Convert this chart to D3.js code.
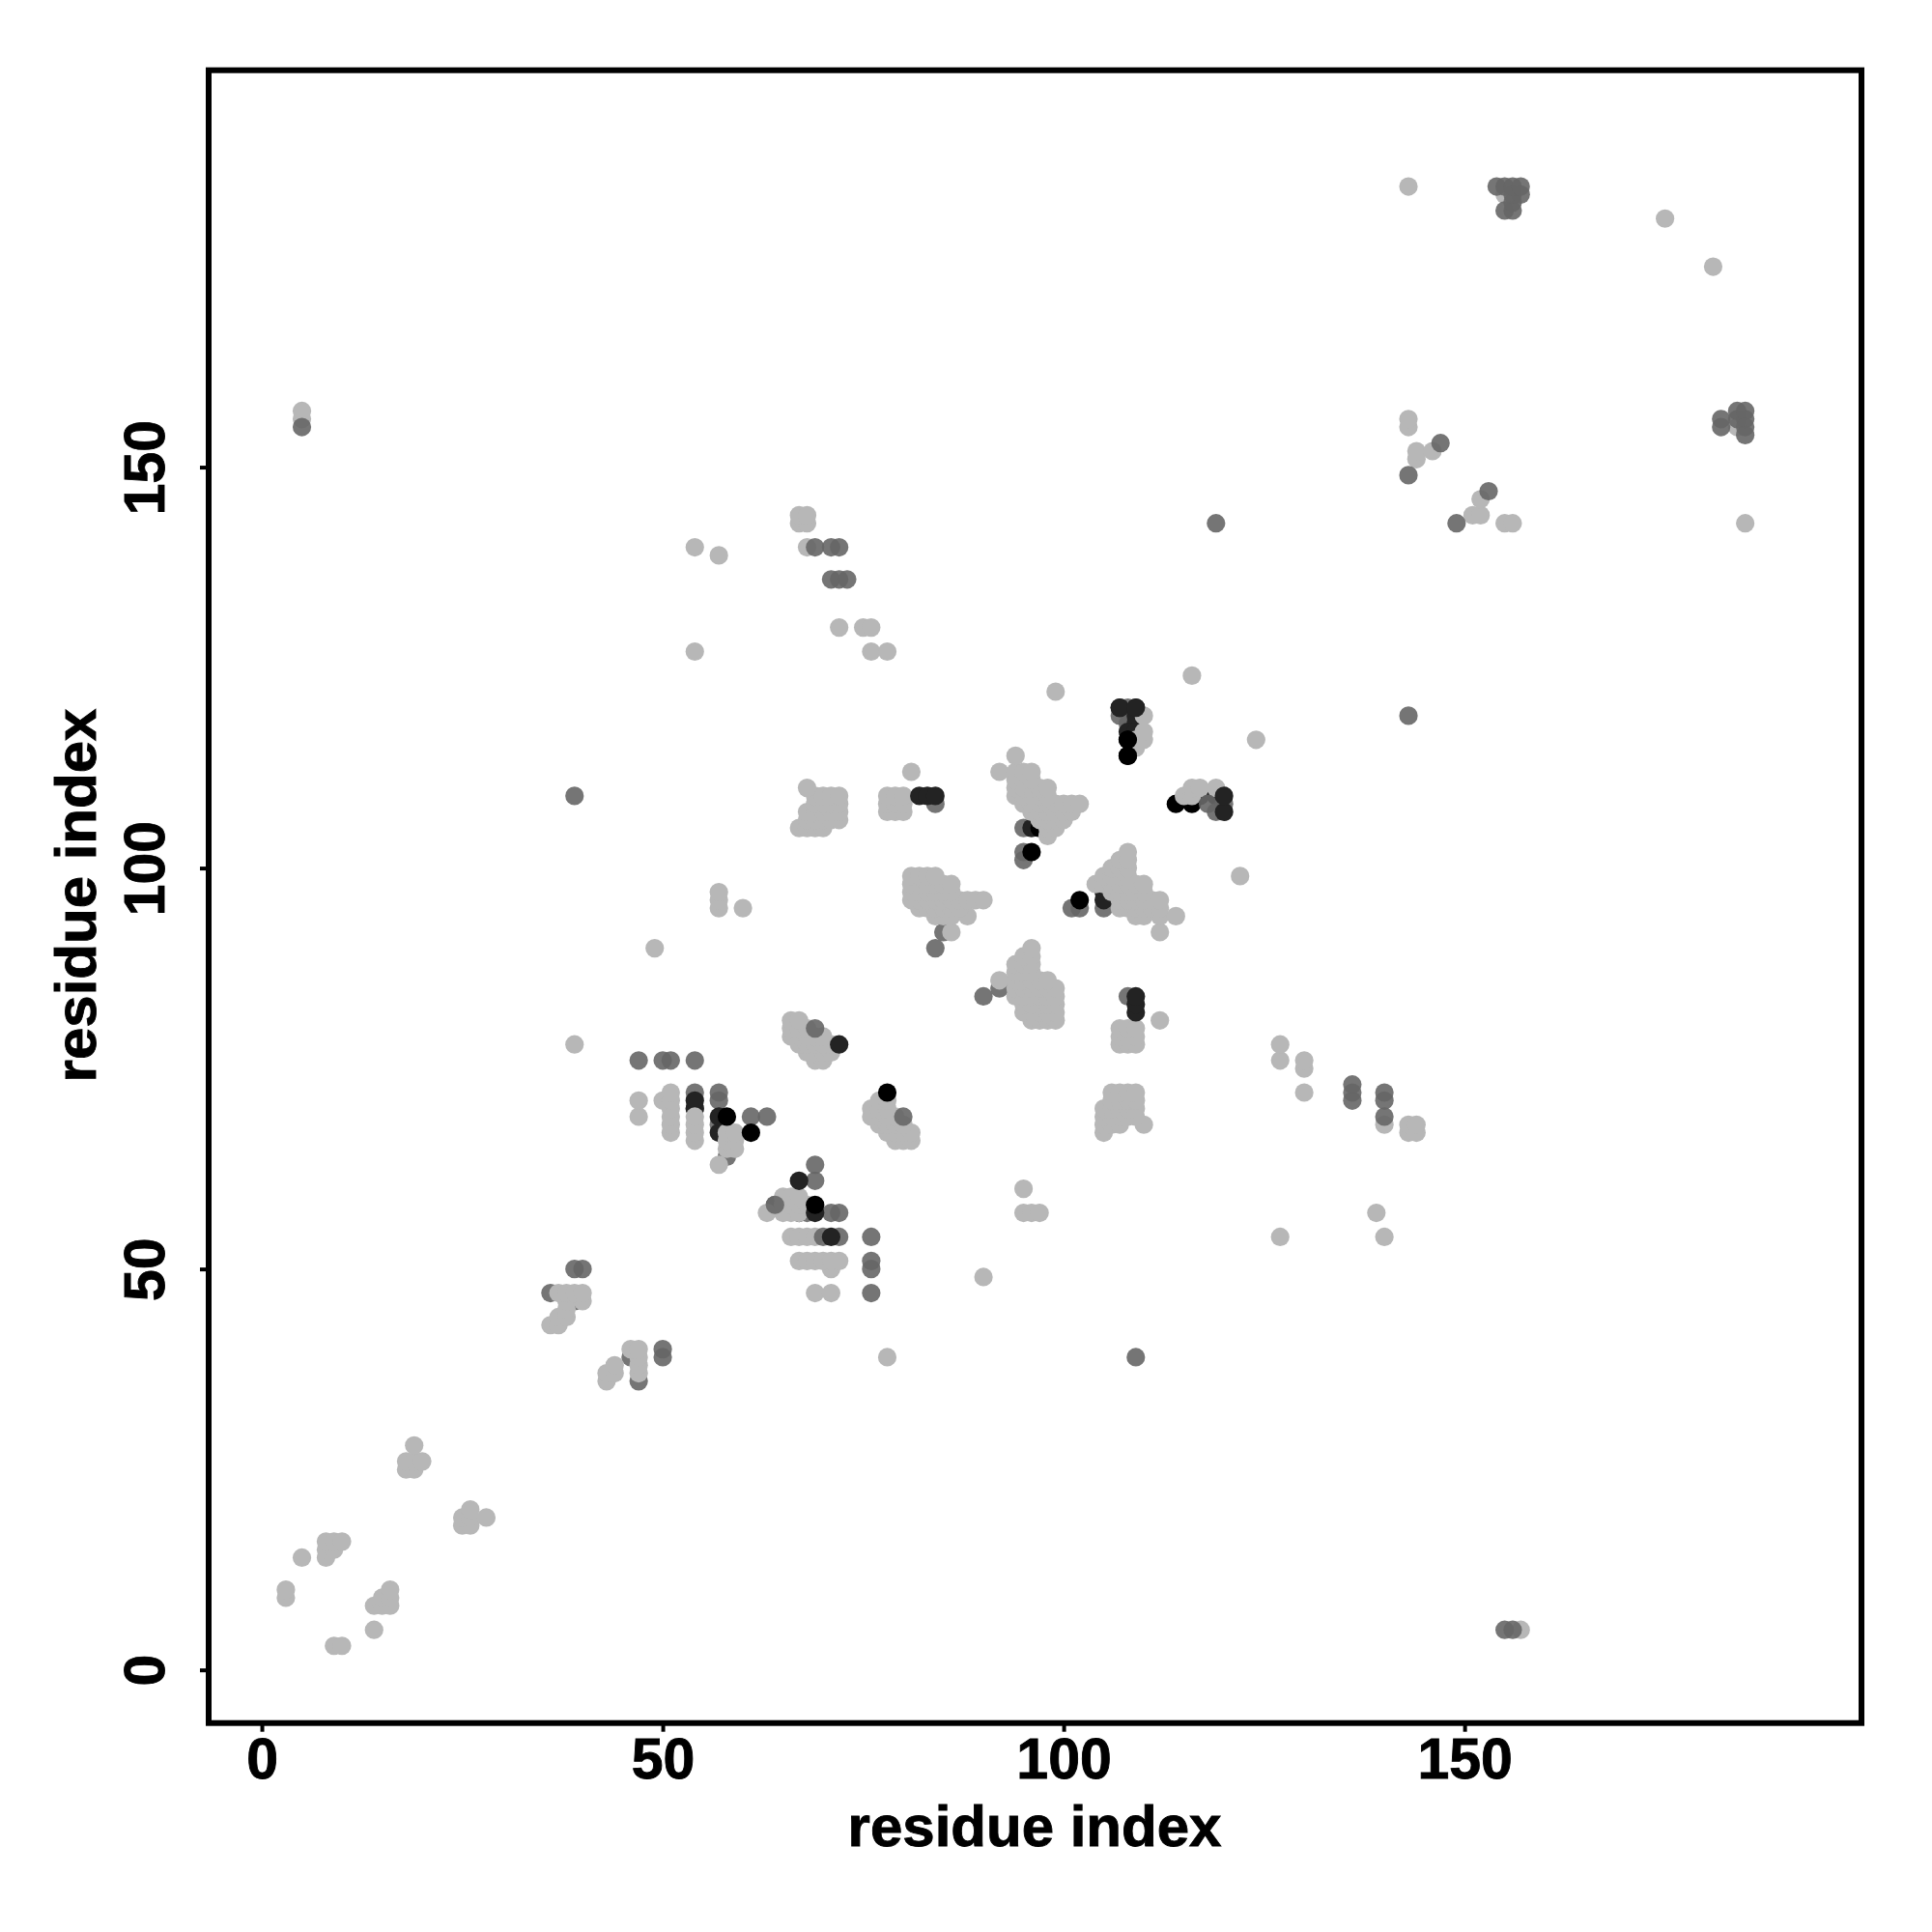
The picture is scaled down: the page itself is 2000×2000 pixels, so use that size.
<!DOCTYPE html>
<html>
<head>
<meta charset="utf-8">
<script src="https://cdn.jsdelivr.net/npm/d3@7/dist/d3.min.js"></script>
<style>
html,body{margin:0;padding:0;background:#fff}
svg{display:block}
text{font-family:"Liberation Sans",Arial,sans-serif;font-weight:700;fill:#000;stroke:#000;stroke-width:.9px}
</style>
</head>
<body>
<svg id="chart" width="2000" height="2000"></svg>
<script>
// Each row: first number is the y residue, the rest are x residues.
const midUnderRows = [
  [36,47],[39,46],[46,39],[47,36],[58,64],[57,68],[64,58],[68,57],[70,54],[72,54,57],[71,57],
  [85,92],[92,85],[108,84],[105,95],[102,95],[101,95],[95,101,102,105],[84,108],
  [120,108],[119,107],[118,108]
];
const darkUnderRows = [
  [57,67],[67,57],[69,57],[70,54],[71,54],[105,96],[97,105],[96,105],[109,117,119],[120,107,109],
  [119,109],[118,109],[117,108,109]
];
const blackUnderRows = [
  [105,97],[108,114,116],[116,108],[114,108]
];
const lightRows = [
  [3,9,10],[5,14,157],[8,14,15,16],[9,3,15,16],[10,3,16],[14,5,8],[15,8,9],[16,8,9,10],
  [18,25,26],[19,25,26,28],[20,26],[25,18,19],[26,18,19,20],[28,19],
  [36,43],[37,43,44,47],[38,44,47],[39,47,78],[40,46,47],[43,36,37],[44,37,38],[45,38],[46,38,40],
  [47,37,38,39,40,69,71],[49,90],[50,71],[51,67,68,69,70,71,72],[54,66,67,68,69,127,140],
  [57,63,65,66,67,95,96,97,139],[58,65,66,67,68],[59,65,66,67],[60,95],[63,57],[65,58,59],
  [66,54,58,59,79,80,81],[67,51,54,58,59,78,79,80,81,105,143,144],
  [68,51,54,77,78,79,80,105,106,107,110,140,143,144],
  [69,47,51,54,76,77,78,79,105,106,107,108,109],[70,51,76,77,78,105,106,107,108,109],
  [71,47,50,51,77,78,106,107,108,109],[72,51,106,107,108,109,130],[75,130],[76,69,70,127,130],
  [77,68,69,70,71],[78,39,67,68,69,70,71,107,108,109,127],[79,66,67,68,69,70,107,108,109],
  [80,66,67,68,107,108,109],[81,66,67,96,97,98,99,112],[82,95,96,97,98,99],[83,95,96,97,98,99],
  [84,94,95,96,97,98,99],[85,94,95,96,97,98,99],[86,92,94,95,96,97,98],[87,94,95,96],
  [88,94,95,96],[89,95,96],[90,49,96],[92,86,112],[94,84,85,86,88,109,110,112,114],
  [95,57,60,82,83,84,85,86,87,107,108,109,110,111,112],
  [96,57,81,82,83,84,85,86,87,88,89,90,107,108,109,110,111,112],
  [97,57,81,82,83,84,85,86,106,107,108,109,110],[98,81,82,83,84,85,86,104,105,106,107,108,109,110],
  [99,81,82,83,84,105,106,107,108,122],[100,106,107,108],[101,107,108],[102,108],[104,98],
  [105,67,68,69,70,98,99],[106,68,69,70,71,72,97,98,99,100],
  [107,68,69,70,71,72,78,79,80,96,97,98,99,100,101],
  [108,69,70,71,72,78,79,80,95,96,97,98,99,100,101,102],
  [109,69,70,71,72,78,79,80,94,95,96,97,98,115,116],
  [110,68,94,95,96,97,98,116,117,119],[111,94,95,96],[112,81,92,94,95,96],[114,94],[115,109],
  [116,109,110,124],[117,110],[119,110],[122,99],[124,116],[127,54,76,78],[130,72,75,76],
  [139,57],[140,54,68],[143,67,68,155,156,185],[144,67,68,151,152],[146,152],[151,144],
  [152,144,146],[155,143,184],[156,5,143],[157,5],[175,181],[181,175],[184,155],[185,143]
];
const midOverRows = [
  [5,155,156],[39,50,109],[40,50],[47,76],[50,39,40,76],[51,76],[54,70,72,76],[57,71,72],
  [58,64],[61,69],[63,69],[69,61,63,80],[71,136,140],[72,136,140],[73,136],[76,47,50,51,54],
  [80,69],[90,84],[84,90],[108,118,120],[107,119],[109,39],[119,143],[143,119],[149,143],
  [153,147],[147,153],[143,149],[155,5,182],[156,182,184,185],[157,184,185],[155,185],[154,185],
  [140,69,71,72],[136,71,72,73],[182,155,156],[183,156],[184,156,157],
  [185,154,155,156,157],[69,140]
];
const darkOverRows = [
  [54,71],[57,69],[61,67],[78,72],[82,109],[83,109],[84,109],
  [109,82,83,84],[120,107,109],[107,120],[109,120]
];
const blackOverRows = [
  [58,69],[67,61],[69,58],[72,78],[96,102],[102,96],[116,108],[114,108]
];
const tickValues = [0, 50, 100, 150];
const axisTitle = "residue index";

const light = "#b7b7b7", mid = "#666666", dark = "#232323", black = "#000000";
const expand = rows => rows.flatMap(([y, ...xs]) => xs.map(x => ({x, y})));
const layers = [
  {rows: midUnderRows, fill: mid, op: .9},
  {rows: darkUnderRows, fill: dark, op: 1},
  {rows: blackUnderRows, fill: black, op: 1},
  {rows: lightRows, fill: light, op: 1},
  {rows: midOverRows, fill: mid, op: .9},
  {rows: darkOverRows, fill: dark, op: 1},
  {rows: blackOverRows, fill: black, op: 1}
];

const svg = d3.select("#chart");
const lim = [-6.63, 199.5];
const x = d3.scaleLinear().domain(lim).range([216, 1927]);
const y = d3.scaleLinear().domain(lim).range([1783.7, 72.7]);

layers.forEach(l => {
  svg.append("g").selectAll("circle").data(expand(l.rows)).join("circle")
    .attr("cx", d => x(d.x)).attr("cy", d => y(d.y)).attr("r", 9.6)
    .attr("fill", l.fill).attr("fill-opacity", l.op);
});

svg.append("rect").attr("x", 216).attr("y", 72.7).attr("width", 1711).attr("height", 1711)
  .attr("fill", "none").attr("stroke", "#000").attr("stroke-width", 6);

const gx = svg.append("g").attr("transform", "translate(0,1783.7)")
  .call(d3.axisBottom(x).tickValues(tickValues).tickSize(9).tickPadding(17).tickFormat(d3.format("d")));
const gy = svg.append("g").attr("transform", "translate(216,0)")
  .call(d3.axisLeft(y).tickValues(tickValues).tickSize(9).tickFormat(d3.format("d")));
[gx, gy].forEach(g => {
  g.select(".domain").remove();
  g.selectAll("line").attr("stroke", "#000").attr("stroke-width", 4);
  g.selectAll("text").attr("font-size", 59).attr("fill", "#000");
});
gx.selectAll("text").attr("dy", null).attr("y", null)
  .attr("transform", "translate(0,57)").attr("dominant-baseline", "auto");
gy.selectAll("text").attr("x", null).attr("dy", null)
  .attr("text-anchor", "middle").attr("transform", "translate(-46,0) rotate(-90)");

svg.append("text").attr("x", 1071).attr("y", 1911).attr("text-anchor", "middle")
  .attr("font-size", 60).text(axisTitle);
svg.append("text").attr("transform", "translate(99,927) rotate(-90)").attr("text-anchor", "middle")
  .attr("font-size", 60).text(axisTitle);
</script>
</body>
</html>
